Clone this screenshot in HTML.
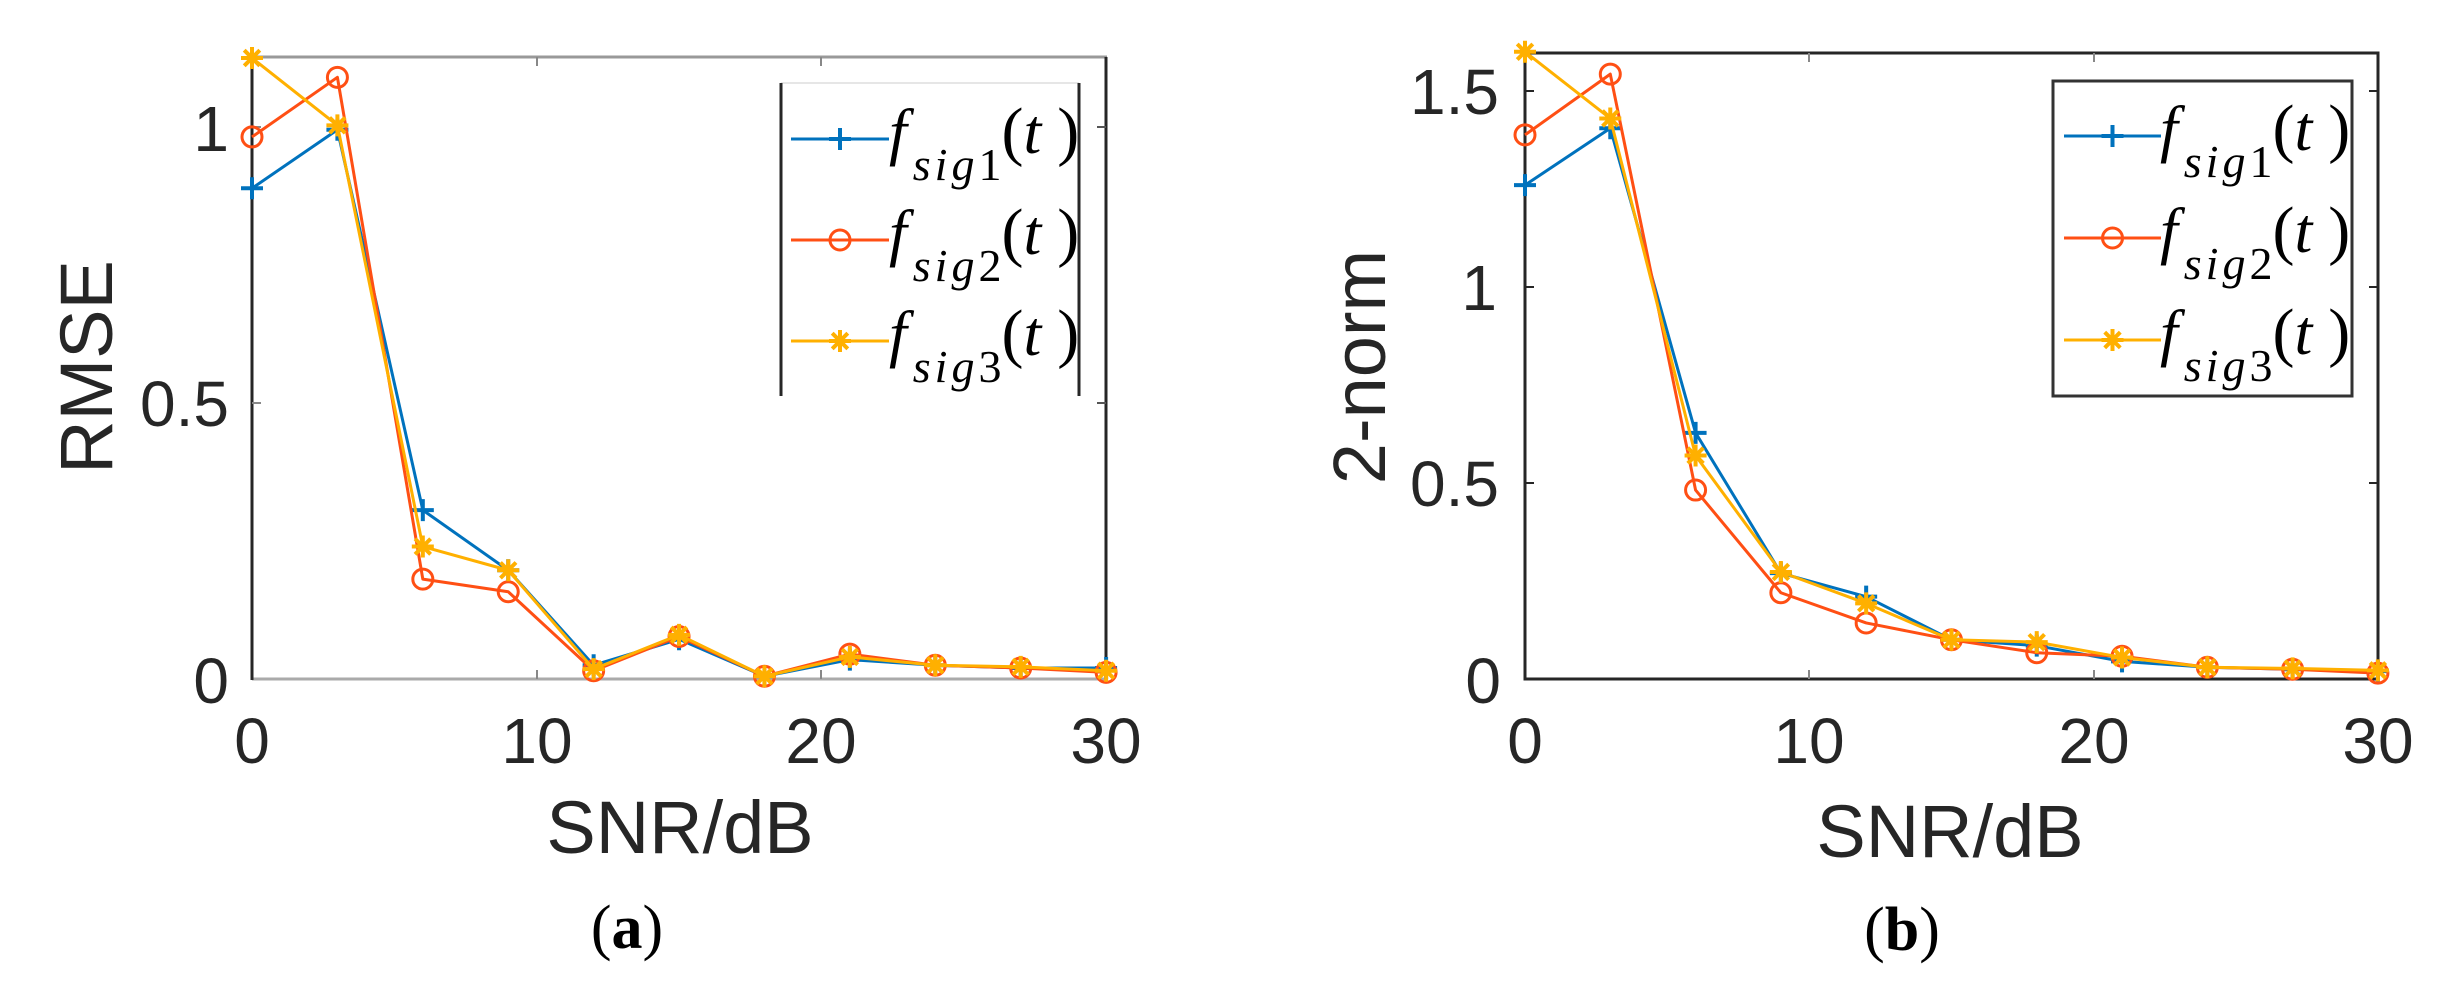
<!DOCTYPE html>
<html><head><meta charset="utf-8">
<style>
html,body{margin:0;padding:0;background:#fff;}
svg{display:block;}
.t{font-family:"Liberation Sans",Arial,sans-serif;fill:#262626;}
.s{font-family:"Liberation Serif","Times New Roman",serif;fill:#000;}
</style></head>
<body>
<svg id="svg" width="2438" height="1007" viewBox="0 0 2438 1007" xmlns="http://www.w3.org/2000/svg">
<rect width="2438" height="1007" fill="#fff"/>
<g id="axA">
<line x1="252" y1="57" x2="1107" y2="57" stroke="#999" stroke-width="3"/>
<line x1="252" y1="679" x2="1107" y2="679" stroke="#aaa" stroke-width="3"/>
<line x1="252" y1="57" x2="252" y2="680" stroke="#262626" stroke-width="3"/>
<line x1="1106" y1="57" x2="1106" y2="680" stroke="#262626" stroke-width="3"/>
<line x1="537" y1="679" x2="537" y2="670" stroke="#888" stroke-width="2"/>
<line x1="821" y1="679" x2="821" y2="670" stroke="#888" stroke-width="2"/>
<line x1="537" y1="57" x2="537" y2="66" stroke="#888" stroke-width="2"/>
<line x1="821" y1="57" x2="821" y2="66" stroke="#888" stroke-width="2"/>
<line x1="252" y1="403" x2="261" y2="403" stroke="#888" stroke-width="2"/>
<line x1="252" y1="127" x2="261" y2="127" stroke="#888" stroke-width="2"/>
<line x1="1106" y1="403" x2="1097" y2="403" stroke="#555" stroke-width="2"/>
<line x1="1106" y1="127" x2="1097" y2="127" stroke="#555" stroke-width="2"/>
<g class="t" font-size="64" text-anchor="end">
<text x="229" y="703">0</text>
<text x="229" y="426">0.5</text>
<text x="229" y="151">1</text>
</g>
<g class="t" font-size="64" text-anchor="middle">
<text x="252" y="763">0</text>
<text x="537" y="763">10</text>
<text x="821" y="763">20</text>
<text x="1106" y="763">30</text>
</g>
<text class="t" x="680" y="853" font-size="74" text-anchor="middle">SNR/dB</text>
<text class="t" font-size="74" text-anchor="middle" transform="translate(112,367) rotate(-90)">RMSE</text>
<text class="s" x="627" y="948" font-size="62" text-anchor="middle">(<tspan font-weight="bold">a</tspan>)</text>
</g>
<g id="axB">
<rect x="1525" y="53" width="853" height="626" fill="none" stroke="#262626" stroke-width="3"/>
<line x1="1809" y1="679" x2="1809" y2="670" stroke="#888" stroke-width="2"/>
<line x1="2094" y1="679" x2="2094" y2="670" stroke="#888" stroke-width="2"/>
<line x1="1809" y1="53" x2="1809" y2="62" stroke="#888" stroke-width="2"/>
<line x1="2094" y1="53" x2="2094" y2="62" stroke="#888" stroke-width="2"/>
<line x1="1525" y1="483" x2="1534" y2="483" stroke="#262626" stroke-width="2"/>
<line x1="1525" y1="287" x2="1534" y2="287" stroke="#262626" stroke-width="2"/>
<line x1="1525" y1="91" x2="1534" y2="91" stroke="#262626" stroke-width="2"/>
<line x1="2378" y1="483" x2="2369" y2="483" stroke="#262626" stroke-width="2"/>
<line x1="2378" y1="287" x2="2369" y2="287" stroke="#262626" stroke-width="2"/>
<line x1="2378" y1="91" x2="2369" y2="91" stroke="#262626" stroke-width="2"/>
<g class="t" font-size="64" text-anchor="end">
<text x="1501" y="703">0</text>
<text x="1499" y="506">0.5</text>
<text x="1497" y="310">1</text>
<text x="1499" y="114">1.5</text>
</g>
<g class="t" font-size="64" text-anchor="middle">
<text x="1525" y="763">0</text>
<text x="1809" y="763">10</text>
<text x="2094" y="763">20</text>
<text x="2378" y="763">30</text>
</g>
<text class="t" x="1950" y="857" font-size="74" text-anchor="middle">SNR/dB</text>
<text class="t" font-size="74" text-anchor="middle" transform="translate(1385,367) rotate(-90)">2-norm</text>
<text class="s" x="1902" y="950" font-size="62" text-anchor="middle">(<tspan font-weight="bold">b</tspan>)</text>
</g>
<g id="series"></g>
<rect x="781" y="83" width="298" height="313" fill="#fff"/>
<line x1="781" y1="83" x2="1079" y2="83" stroke="#e6e6e6" stroke-width="2"/>
<line x1="781" y1="83" x2="781" y2="396" stroke="#262626" stroke-width="3"/>
<line x1="1079" y1="83" x2="1079" y2="396" stroke="#262626" stroke-width="3"/>
<g id="legA"></g>
<rect x="2053" y="81" width="299" height="315" fill="#fff" stroke="#333" stroke-width="3"/>
<g id="legB"></g>
</svg>
<script>
var NS="http://www.w3.org/2000/svg";
function el(tag,attrs,parent){var e=document.createElementNS(NS,tag);for(var k in attrs)e.setAttribute(k,attrs[k]);parent.appendChild(e);return e;}
var C=["#0072BD","#FF4F14","#FFB000"];
function marker(type,x,y,col,g){
 if(type==0){el("path",{d:"M"+(x-11)+" "+y+"H"+(x+11)+"M"+x+" "+(y-11)+"V"+(y+11),stroke:col,"stroke-width":4,fill:"none"},g);}
 else if(type==1){el("circle",{cx:x,cy:y,r:10,stroke:col,"stroke-width":3,fill:"none"},g);}
 else {var d="";for(var i=0;i<4;i++){var a=i*Math.PI/4;var dx=11*Math.cos(a),dy=11*Math.sin(a);d+="M"+(x-dx)+" "+(y-dy)+"L"+(x+dx)+" "+(y+dy);}
   el("path",{d:d,stroke:col,"stroke-width":4,fill:"none"},g);}
}
var sg=document.getElementById("series");
var xs=[0,3,6,9,12,15,18,21,24,27,30];
var A=[[0.889,0.995,0.306,0.197,0.025,0.072,0.005,0.035,0.025,0.02,0.02],
       [0.982,1.09,0.181,0.158,0.015,0.077,0.005,0.045,0.025,0.02,0.012],
       [1.125,1.003,0.24,0.197,0.018,0.08,0.005,0.04,0.025,0.022,0.015]];
var B=[[1.26,1.405,0.628,0.27,0.21,0.10,0.085,0.045,0.03,0.025,0.02],
       [1.388,1.543,0.482,0.22,0.143,0.10,0.067,0.058,0.03,0.025,0.015],
       [1.6,1.43,0.57,0.273,0.193,0.10,0.094,0.055,0.03,0.027,0.022]];
function draw(D,x0,sx,y0,sy){
 for(var s=0;s<3;s++){var pts=[];for(var i=0;i<11;i++)pts.push([x0+sx*xs[i],y0-sy*D[s][i]]);
  el("polyline",{points:pts.map(function(p){return p.join(",")}).join(" "),fill:"none",stroke:C[s],"stroke-width":3,"stroke-linejoin":"round"},sg);
  pts.forEach(function(p){marker(s,p[0],p[1],C[s],sg);});}
}
draw(A,252,28.47,679,552);
draw(B,1525,28.43,679,392);
var SERIF='"Liberation Serif","Times New Roman",serif';
function legend(id,lx1,lx2,rows,tx){
 var g=document.getElementById(id);
 for(var s=0;s<3;s++){var y=rows[s];
  el("line",{x1:lx1,y1:y,x2:lx2,y2:y,stroke:C[s],"stroke-width":3},g);
  marker(s,(lx1+lx2)/2,y,C[s],g);
  var t=el("text",{x:tx,y:y+14,"font-family":SERIF,fill:"#000","font-size":64,"font-style":"italic"},g);
  t.textContent="f";
  var sub=el("tspan",{dx:6,dy:27,"font-size":46,"letter-spacing":"4","font-style":"italic"},t);sub.textContent="sig";
  var n=el("tspan",{"font-style":"normal","font-size":46},t);n.textContent=String(s+1);
  var p=el("tspan",{dy:-27,"font-size":66,"font-style":"normal"},t);p.textContent="(";
  var tt=el("tspan",{"font-size":64,"font-style":"italic"},t);tt.textContent="t ";
  var p2=el("tspan",{"font-size":66,"font-style":"normal"},t);p2.textContent=")";
 }
}
legend("legA",791,889,[139,240,341],889);
legend("legB",2064,2161,[136,238,340],2160);
</script>
</body></html>
